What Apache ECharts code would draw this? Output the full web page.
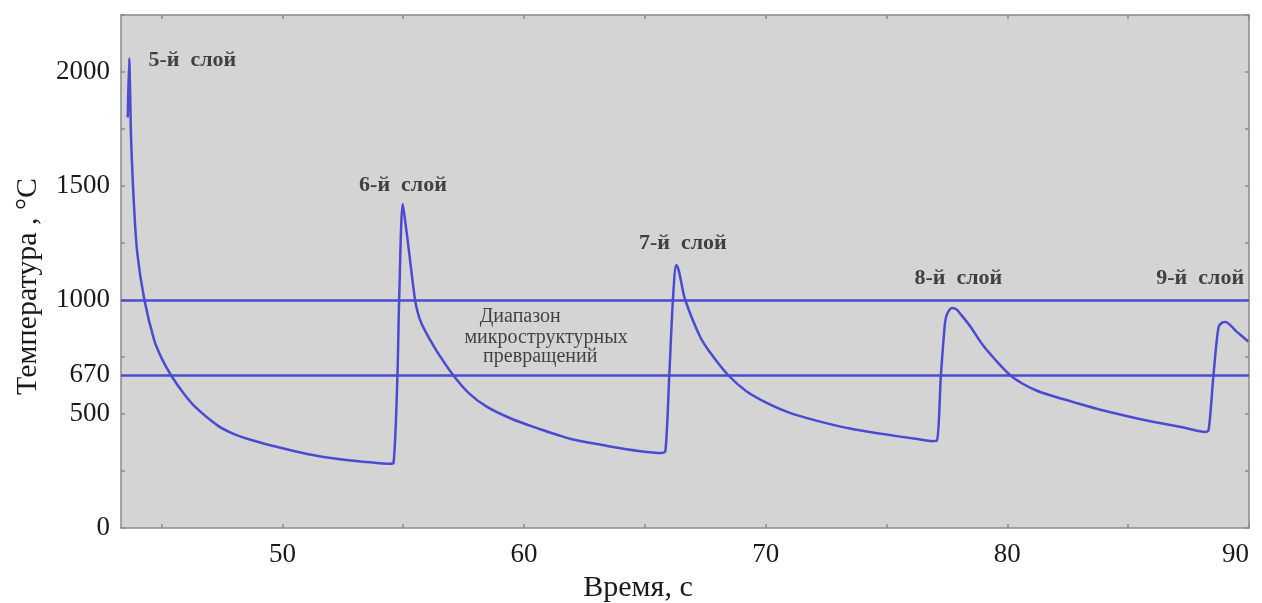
<!DOCTYPE html>
<html>
<head>
<meta charset="utf-8">
<title>Температура слоёв</title>
<script src="https://cdn.jsdelivr.net/npm/echarts@6/dist/echarts.min.js"></script>
<style>
  html, body { margin: 0; padding: 0; background: #ffffff; }
  #chart { width: 1262px; height: 603px; }
</style>
</head>
<body>
<div id="chart"></div>
<script>
// Thermal cycle of the deposited layers: time (s) and temperature (°C)
const timeSec = [
  43.60, 43.66, 43.70, 43.74, 43.86, 44.00, 44.29, 44.69, 45.00, 45.39,
  45.90, 46.39, 47.34, 48.00, 48.75, 49.62, 51.02, 52.39, 53.75, 54.45,
  54.60, 54.76, 54.83, 54.98, 55.10, 55.22, 55.35, 55.49, 55.60, 55.75,
  56.11, 56.50, 57.07, 57.70, 58.47, 59.50, 60.67, 61.40, 62.03, 63.44,
  64.81, 65.70, 65.85, 66.01, 66.16, 66.30, 66.40, 66.50, 66.67, 67.29,
  67.80, 68.45, 69.20, 70.06, 71.00, 72.13, 73.49, 74.86, 76.27, 76.90,
  77.08, 77.25, 77.42, 77.51, 77.72, 77.90, 78.05, 78.46, 79.00, 79.50,
  80.12, 80.60, 81.20, 81.78, 82.80, 83.85, 85.92, 87.29, 88.20, 88.33,
  88.53, 88.74, 88.90, 89.02, 89.50, 89.97
];
const tempC = [
  1800, 2060, 1900, 1700, 1410, 1200, 1000, 825, 745, 670,
  592, 531, 448, 412, 385, 360, 325, 302, 287, 282,
  286, 670, 1000, 1421, 1330, 1230, 1115, 1000, 945, 898,
  825, 757, 670, 593, 531, 478, 433, 408, 388, 360,
  337, 329, 338, 670, 1000, 1153, 1130, 1080, 1000, 838,
  755, 670, 600, 548, 505, 470, 436, 412, 390, 381,
  382, 670, 900, 940, 965, 958, 940, 885, 800, 738,
  670, 635, 603, 582, 550, 519, 468, 441, 421, 430,
  670, 882, 902, 904, 860, 818
];

// Bounds of the microstructural transformation range
const rangeLimits = [1000, 670];

// Axis ticks and labels
const xLabelValues = [50, 60, 70, 80, 90];
const xTickValues = [45, 50, 55, 60, 65, 70, 75, 80, 85, 90];
const yLabelValues = [0, 500, 670, 1000, 1500, 2000];
const yTickValues = [0, 250, 500, 750, 1000, 1250, 1500, 1750, 2000, 2250];

// Layer captions and their anchors (time, temperature)
const layerNames = ['5-й  слой', '6-й  слой', '7-й  слой', '8-й  слой', '9-й  слой'];
const layerAnchorX = [46.27, 54.99, 66.57, 77.97, 87.98];
const layerAnchorY = [2053, 1504, 1250, 1096, 1096];

// Caption of the transformation range, line by line
const rangeCaption = ['Диапазон', 'микроструктурных', 'превращений'];
const rangeAnchorX = [59.84, 60.91, 60.67];
const rangeAnchorY = [925, 833, 750];

const FONT = '"Liberation Serif", "DejaVu Serif", serif';
const CURVE = '#4b4bd2';
const AXIS = '#8a8a8a';
const INK = '#1a1a1a';

const curve = timeSec.map((t, i) => [t, tempC[i]]);
const layerPoints = layerNames.map((n, i) => ({ value: [layerAnchorX[i], layerAnchorY[i]], name: n }));
const rangePoints = rangeCaption.map((n, i) => ({ value: [rangeAnchorX[i], rangeAnchorY[i]], name: n }));

const xMin = 43.32, xMax = 90, yMin = 0, yMax = 2250;

const chart = echarts.init(document.getElementById('chart'), null, { renderer: 'canvas' });

const baseX = {
  type: 'value', min: xMin, max: xMax,
  splitLine: { show: false },
  axisLine: { show: true, onZero: false, lineStyle: { color: AXIS, width: 1.5 } },
  axisTick: { show: true, inside: true, length: 4, customValues: xTickValues, lineStyle: { color: AXIS, width: 1.5 } }
};
const baseY = {
  type: 'value', min: yMin, max: yMax,
  splitLine: { show: false },
  axisLine: { show: true, onZero: false, lineStyle: { color: AXIS, width: 1.5 } },
  axisTick: { show: true, inside: true, length: 4, customValues: yTickValues, lineStyle: { color: AXIS, width: 1.5 } }
};

chart.setOption({
  animation: false,
  backgroundColor: '#ffffff',
  grid: {
    left: 121, right: 13, top: 15, bottom: 75,
    outerBoundsMode: 'none',
    containLabel: false,
    show: true, backgroundColor: '#d4d4d4', borderWidth: 0
  },
  xAxis: [
    Object.assign({}, baseX, {
      position: 'bottom',
      name: 'Время, с',
      nameLocation: 'middle',
      nameGap: 44,
      nameTextStyle: { fontFamily: FONT, fontSize: 30, color: INK, padding: [0, 94, 0, 0] },
      axisLabel: {
        show: true, customValues: xLabelValues, margin: 13,
        fontFamily: FONT, fontSize: 27, color: INK,
        formatter: v => String(v),
        alignMaxLabel: 'right'
      }
    }),
    Object.assign({}, baseX, { position: 'top', axisLabel: { show: false } })
  ],
  yAxis: [
    Object.assign({}, baseY, {
      position: 'left',
      name: 'Температура , °С',
      nameLocation: 'middle',
      nameGap: 78,
      nameTextStyle: { fontFamily: FONT, fontSize: 30, color: INK, padding: [0, 30, 0, 0] },
      axisLabel: {
        show: true, customValues: yLabelValues, margin: 11,
        fontFamily: FONT, fontSize: 27, color: INK,
        formatter: v => String(v),
        padding: [8, 0, 0, 0]
      }
    }),
    Object.assign({}, baseY, { position: 'right', axisLabel: { show: false } })
  ],
  series: [
    {
      type: 'line',
      data: curve,
      showSymbol: false,
      smooth: 0.3,
      lineStyle: { color: CURVE, width: 2.5 },
      z: 3,
      markLine: {
        silent: true,
        symbol: ['none', 'none'],
        label: { show: false },
        lineStyle: { color: CURVE, width: 2.5, type: 'solid' },
        data: rangeLimits.map(v => ({ yAxis: v }))
      }
    },
    {
      type: 'scatter',
      data: layerPoints,
      symbolSize: 0,
      silent: true,
      z: 5,
      label: {
        show: true, position: 'inside',
        formatter: p => p.name,
        fontFamily: FONT, fontSize: 22, fontWeight: 'bold', color: INK
      }
    },
    {
      type: 'scatter',
      data: rangePoints,
      symbolSize: 0,
      silent: true,
      z: 5,
      label: {
        show: true, position: 'inside',
        formatter: p => p.name,
        fontFamily: FONT, fontSize: 20, color: INK
      }
    }
  ]
});
</script>
</body>
</html>
